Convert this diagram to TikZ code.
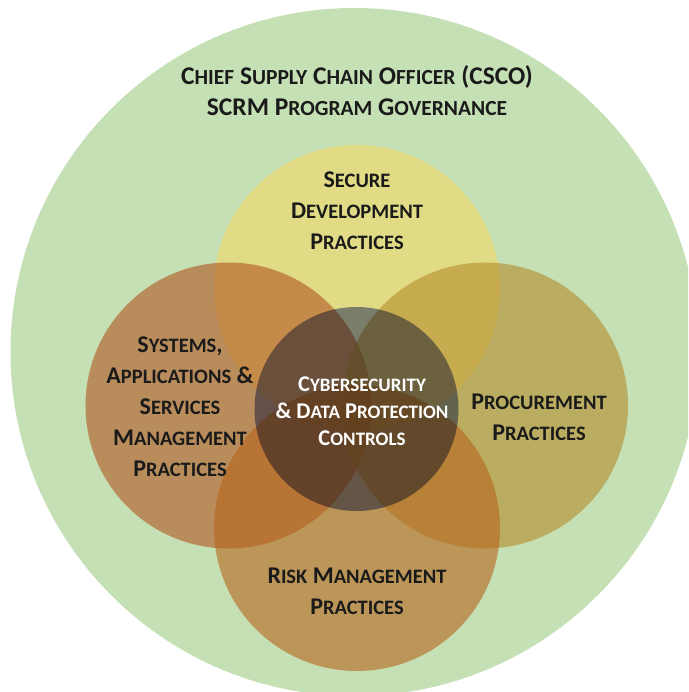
\documentclass[tikz,border=0pt]{standalone}
\usepackage{fontspec}
\setmainfont{Carlito}
\definecolor{govgreen}{HTML}{C5E0B4}
\definecolor{secyellow}{HTML}{F5D866}
\definecolor{sysbrown}{HTML}{B15421}
\definecolor{procgold}{HTML}{B48B2B}
\definecolor{riskorange}{HTML}{B6651B}
\definecolor{coremul}{RGB}{138,146,205}
\definecolor{txtdark}{HTML}{1A1A1A}
\newcommand\setsc[3]{\def\scsmall{#2}\def\sclead{#3}\fontsize{#1}{#3}\selectfont\bfseries}
\newcommand\lo[1]{{\fontsize{\scsmall}{\sclead}\selectfont #1}}
\tikzset{
  venn/.style={circle, inner sep=0pt, minimum size=286pt, fill opacity=0.6, draw=none},
  lbl/.style={align=center, inner sep=0pt, text=txtdark, font=\setsc{24}{20.5}{31}},
  corelbl/.style={align=center, inner sep=0pt, text=white, font=\setsc{22.5}{19}{27}},
}
\begin{document}
\begin{tikzpicture}[x=1pt,y=-1pt]
\useasboundingbox (0,0) rectangle (688,692);
\clip (0,0) rectangle (688,692);
\fill[white] (0,0) rectangle (688,692);
\node[circle, fill=govgreen, minimum size=688pt, inner sep=0pt] (gov) at (354.5,352) {};
\node[venn, fill=secyellow] (sec) at (357,288) {};
\node[venn, fill=sysbrown] (sys) at (228.5,405.5) {};
\node[venn, fill=procgold] (proc) at (485,405.5) {};
\node[venn, fill=riskorange] (risk) at (357,528) {};
\node[circle, inner sep=0pt, minimum size=204pt, fill=coremul, blend mode=multiply] (core) at (356.5,409) {};
\node[lbl, font=\setsc{25.5}{21.5}{31}] (govtxt) at (357,91) {C\lo{HIEF} S\lo{UPPLY} C\lo{HAIN} O\lo{FFICER} (CSCO)\\SCRM P\lo{ROGRAM} G\lo{OVERNANCE}};
\node[lbl] (sectxt) at (357,211) {S\lo{ECURE}\\D\lo{EVELOPMENT}\\P\lo{RACTICES}};
\node[lbl] (systxt) at (180,407) {S\lo{YSTEMS},\\A\lo{PPLICATIONS} \&\\S\lo{ERVICES}\\M\lo{ANAGEMENT}\\P\lo{RACTICES}};
\node[lbl] (proctxt) at (539,417) {P\lo{ROCUREMENT}\\P\lo{RACTICES}};
\node[lbl] (risktxt) at (357,591) {R\lo{ISK} M\lo{ANAGEMENT}\\P\lo{RACTICES}};
\node[corelbl] (coretxt) at (362,411) {C\lo{YBERSECURITY}\\\& D\lo{ATA} P\lo{ROTECTION}\\C\lo{ONTROLS}};
\end{tikzpicture}
\end{document}
